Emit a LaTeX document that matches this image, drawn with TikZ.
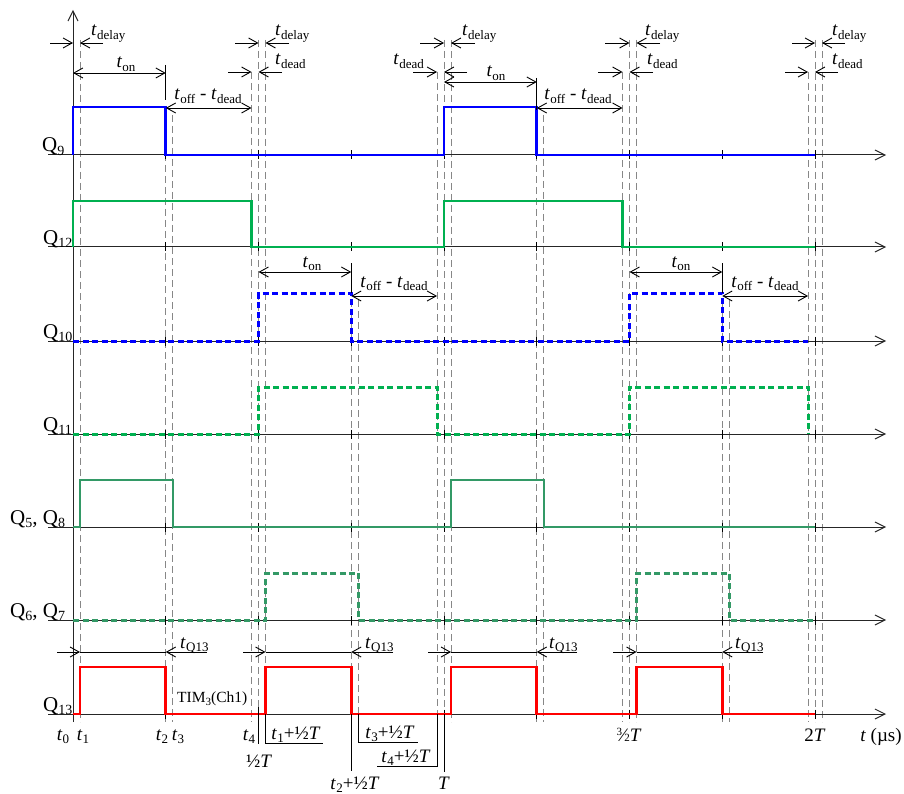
\documentclass[tikz,border=0pt]{standalone}
\usepackage{fontspec}
\setmainfont{Liberation Serif}
\usetikzlibrary{arrows.meta}
\definecolor{qblue}{RGB}{0,0,255}
\definecolor{qgreen}{RGB}{0,176,80}
\definecolor{qsea}{RGB}{51,153,102}
\definecolor{qred}{RGB}{255,0,0}
\definecolor{guidegray}{RGB}{135,135,135}
\newcommand\lsub[1]{\raisebox{-3.5pt}{\fontsize{13}{13}\selectfont #1}}
\newcommand\qsub[1]{\raisebox{-3.5pt}{\fontsize{14}{14}\selectfont #1}}
\newcommand\tq[1]{\textit{t}\kern0.3pt\lsub{#1}}
\newcommand\hT{½\textit{T}}
\newcommand\thT{{\fontsize{11}{11}\selectfont\raisebox{6pt}{3}}\kern-0.5pt⁄\kern-0.5pt{\fontsize{11}{11}\selectfont 2}\textit{T}}
\tikzset{
  axisline/.style={line width=1pt, black!85, -{Straight Barb[length=10pt,width=10pt]}},
  guide/.style={guidegray, line width=0.9pt, dash pattern=on 7pt off 4pt},
  sig/.style={line width=2.6pt, line join=miter},
  dsig/.style={line width=3pt, dash pattern=on 6pt off 3.5pt},
  dim/.style={line width=0.9pt, black},
  rh/.style={dim, -{Straight Barb[length=9pt,width=10pt]}},
  twoheads/.style={dim, {Straight Barb[length=9pt,width=10pt]}-{Straight Barb[length=9pt,width=10pt]}},
  lbl/.style={inner sep=0pt, font=\fontsize{19}{22}\selectfont},
  qlbl/.style={inner sep=0pt, font=\fontsize{21}{24}\selectfont, anchor=base west},
  tickmark/.style={line width=1pt, black},
}
\begin{document}
\begin{tikzpicture}[x=1pt,y=-1pt]
\useasboundingbox (0,0) rectangle (904,794);

% guide lines
\foreach \x/\t in {80/40, 165.75/110, 172.75/115, 251.5/72, 258.5/40, 265.5/40,
  351.25/300, 358.25/300, 437/72, 444/40, 451/40, 536.75/110, 543.75/115,
  622.5/72, 629.5/40, 636.5/40, 722.25/300, 729.25/300, 808/72, 815/40, 822/40}
  \draw[guide] (\x,\t) -- (\x,722);

% axes
\draw[axisline] (73,722) -- (73,10);
\foreach \y in {155,247,341,434,527,620,714}{
  \draw[axisline] (48,\y) -- (886,\y);
  \foreach \x in {165.75,258.5,351.25,444,536.75,629.5,722.25,815}
    \draw[tickmark] (\x,\y-4.5) -- (\x,\y+4.5);
}

% signals
\draw[sig, qblue] (73,155) -- (73,107) -- (165.75,107) -- (165.75,155) -- (444,155) -- (444,107) -- (536.75,107) -- (536.75,155) -- (815,155);
\draw[sig, qgreen] (73,247) -- (73,201) -- (251.5,201) -- (251.5,247) -- (444,247) -- (444,201) -- (622.5,201) -- (622.5,247) -- (815,247);
\draw[dsig, qblue] (73,341) -- (258.5,341) -- (258.5,293) -- (351.25,293) -- (351.25,341) -- (629.5,341) -- (629.5,293) -- (722.25,293) -- (722.25,341) -- (808,341);
\draw[dsig, qgreen] (73,434) -- (258.5,434) -- (258.5,387) -- (437,387) -- (437,434) -- (629.5,434) -- (629.5,387) -- (808,387) -- (808,434);
\draw[sig, qsea, line width=2.3pt] (73,527) -- (80,527) -- (80,480) -- (172.75,480) -- (172.75,527) -- (451,527) -- (451,480) -- (543.75,480) -- (543.75,527) -- (815,527);
\draw[dsig, qsea] (73,620) -- (265.5,620) -- (265.5,573) -- (358.25,573) -- (358.25,620) -- (636.5,620) -- (636.5,573) -- (729.25,573) -- (729.25,620) -- (815,620);
\draw[sig, qred] (73,714) -- (80,714) -- (80,667) -- (165.75,667) -- (165.75,714) -- (265.5,714) -- (265.5,667) -- (351.25,667) -- (351.25,714) -- (451,714) -- (451,667) -- (536.75,667) -- (536.75,714) -- (636.5,714) -- (636.5,667) -- (722.25,667) -- (722.25,714) -- (815,714);

% row labels
\node[qlbl] (lq9) at (42,152) {Q\qsub{9}};
\node[qlbl] (lq12) at (43,244) {Q\qsub{12}};
\node[qlbl] (lq10) at (43,338) {Q\qsub{10}};
\node[qlbl] (lq11) at (43,431) {Q\qsub{11}};
\node[qlbl] (lq58) at (10,524) {Q\qsub{5}, Q\qsub{8}};
\node[qlbl] (lq67) at (10,617) {Q\qsub{6}, Q\qsub{7}};
\node[qlbl] (lq13) at (43,711) {Q\qsub{13}};

% group 1 (t0)
\draw[rh] (50,43) -- (73,43);
\draw[rh] (103,43) -- (80,43);
\node[lbl, anchor=base west] (d1) at (91,36) {\tq{delay}};
\draw[twoheads] (73,73) -- (165.75,73);
\node[lbl, anchor=base] (on1) at (126,68) {\tq{on}};
\draw[dim] (165.75,65) -- (165.75,100);
\draw[twoheads] (165.75,108) -- (251.5,108);
\node[lbl, anchor=base] (off1) at (208,100) {\tq{off} - \tq{dead}};

% group 2 (1/2 T)
\draw[rh] (235,43) -- (258.5,43);
\draw[rh] (289,43) -- (265.5,43);
\node[lbl, anchor=base west] (d2) at (275,36) {\tq{delay}};
\draw[rh] (228,72) -- (251.5,72);
\draw[rh] (282,72) -- (258.5,72);
\node[lbl, anchor=base west] (dd2) at (275,65) {\tq{dead}};

% group 3 (T)
\draw[rh] (420,43) -- (444,43);
\draw[rh] (475,43) -- (451,43);
\node[lbl, anchor=base west] (d3) at (462,36) {\tq{delay}};
\draw[rh] (413,72) -- (437,72);
\draw[rh] (467,72) -- (444,72);
\node[lbl, anchor=base east] (dd3) at (424,65) {\tq{dead}};
\draw[twoheads] (444,82) -- (536.75,82);
\node[lbl, anchor=base] (on3) at (496,77) {\tq{on}};
\draw[dim] (536.75,78) -- (536.75,110);
\draw[twoheads] (536.75,108) -- (622.5,108);
\node[lbl, anchor=base] (off3) at (578,100) {\tq{off} - \tq{dead}};

% group 4 (3/2 T)
\draw[rh] (605,43) -- (629.5,43);
\draw[rh] (660,43) -- (636.5,43);
\node[lbl, anchor=base west] (d4) at (645,36) {\tq{delay}};
\draw[rh] (598,72) -- (622.5,72);
\draw[rh] (653,72) -- (629.5,72);
\node[lbl, anchor=base west] (dd4) at (647,65) {\tq{dead}};

% group 5 (2T)
\draw[rh] (792,43) -- (815,43);
\draw[rh] (845,43) -- (822,43);
\node[lbl, anchor=base west] (d5) at (832,36) {\tq{delay}};
\draw[rh] (785,72) -- (808,72);
\draw[rh] (838,72) -- (815,72);
\node[lbl, anchor=base west] (dd5) at (832,65) {\tq{dead}};

% Q10 dimensions
\draw[twoheads] (258.5,272) -- (351.25,272);
\node[lbl, anchor=base] (on10a) at (312,267) {\tq{on}};
\draw[dim] (351.25,263) -- (351.25,293);
\draw[twoheads] (351.25,296) -- (437,296);
\node[lbl, anchor=base] (off10a) at (394,287) {\tq{off} - \tq{dead}};
\draw[twoheads] (629.5,272) -- (722.25,272);
\node[lbl, anchor=base] (on10b) at (681,267) {\tq{on}};
\draw[dim] (722.25,263) -- (722.25,293);
\draw[twoheads] (722.25,296) -- (808,296);
\node[lbl, anchor=base] (off10b) at (765,287) {\tq{off} - \tq{dead}};

% Q13 dimensions
\foreach \a/\r/\f/\e/\l in {57/80/165.75/207/180, 243/265.5/351.25/393/365, 428/451/536.75/577/549, 613/636.5/722.25/763/735}{
  \draw[dim] (\r,652) -- (\f,652);
  \draw[rh] (\a,652) -- (\r,652);
  \draw[rh] (\e,652) -- (\f,652);
  \node[lbl, anchor=base west] at (\l,648) {\tq{Q13}};
}
\node[inner sep=0pt, anchor=base west, font=\fontsize{15.5}{18}\selectfont] (tim) at (177,702) {TIM\raisebox{-3pt}{\fontsize{11}{11}\selectfont 3}(Ch1)};

% bottom labels
\node[lbl, anchor=base] (l0) at (63,740) {\tq{0}};
\node[lbl, anchor=base] (l1) at (83,740) {\tq{1}};
\node[lbl, anchor=base] (l2) at (162,740) {\tq{2}};
\node[lbl, anchor=base] (l3) at (178,740) {\tq{3}};
\node[lbl, anchor=base] (l4) at (249,740) {\tq{4}};
\draw[dim] (258.5,707) -- (258.5,744);
\node[lbl, anchor=base] (lh) at (259,767) {\hT};
\draw[dim] (265.5,714) -- (265.5,743) -- (323,743);
\node[lbl, anchor=base] (l1h) at (296,739) {\tq{1}+\hT};
\draw[dim] (358.25,714) -- (358.25,742) -- (418,742);
\node[lbl, anchor=base] (l3h) at (390,738) {\tq{3}+\hT};
\draw[dim] (437,714) -- (437,766) -- (377,766);
\node[lbl, anchor=base] (l4h) at (406,762) {\tq{4}+\hT};
\draw[dim] (351.25,714) -- (351.25,771);
\node[lbl, anchor=base] (l2h) at (355,789) {\tq{2}+\hT};
\draw[dim] (444,714) -- (444,772);
\node[lbl, anchor=base] (lT) at (444,789) {\textit{T}};
\node[lbl, anchor=base] (l32) at (629,741) {\thT};
\node[lbl, anchor=base] (l2T) at (815,741) {2\textit{T}};
\node[lbl, anchor=base] (lt) at (881,741) {\textit{t} (µs)};
\end{tikzpicture}
\end{document}
